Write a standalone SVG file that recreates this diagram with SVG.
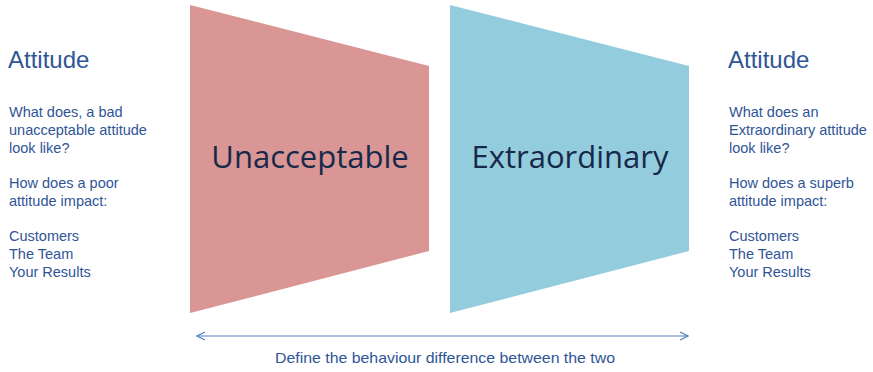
<svg xmlns="http://www.w3.org/2000/svg" width="873" height="372" viewBox="0 0 873 372">
<defs>
<style>
.side{font-family:"Liberation Sans",Arial,sans-serif;fill:#2f5597;font-size:14.5px}
.title{font-family:"Liberation Sans",Arial,sans-serif;fill:#2f5597;font-size:24px}
.big{font-family:"Open Sans","Noto Sans",sans-serif;fill:#17294a;font-size:31px}
.cap{font-family:"Liberation Sans",Arial,sans-serif;fill:#2f5597;font-size:14.5px}
.conn{stroke:#4f81bd;stroke-width:1.2;fill:none}
</style>
<marker id="ah" viewBox="0 0 10 10" refX="9" refY="5" markerWidth="10" markerHeight="10" markerUnits="userSpaceOnUse" orient="auto-start-reverse">
<path d="M1,1 L9,5 L1,9" fill="none" stroke="#4f81bd" stroke-width="1.2"/>
</marker>
</defs>
<rect width="873" height="372" fill="#ffffff"/>
<g id="left-text">
<text class="title" x="8" y="68">Attitude</text>
<text class="side" x="9" y="117">What does, a bad</text>
<text class="side" x="9" y="135">unacceptable attitude</text>
<text class="side" x="9" y="153">look like?</text>
<text class="side" x="9" y="188">How does a poor</text>
<text class="side" x="9" y="206">attitude impact:</text>
<text class="side" x="9" y="241">Customers</text>
<text class="side" x="9" y="259">The Team</text>
<text class="side" x="9" y="277">Your Results</text>
</g>
<g id="unacceptable">
<polygon points="190,5 429,66 429,251 190,313" fill="#d99694"/>
<text class="big" x="310" y="168" text-anchor="middle">Unacceptable</text>
</g>
<g id="extraordinary">
<polygon points="450,5 689,66 689,251 450,313" fill="#93cddd"/>
<text class="big" x="570" y="168" text-anchor="middle">Extraordinary</text>
</g>
<g id="right-text">
<text class="title" x="728" y="68">Attitude</text>
<text class="side" x="729" y="117">What does an</text>
<text class="side" x="729" y="135">Extraordinary attitude</text>
<text class="side" x="729" y="153">look like?</text>
<text class="side" x="729" y="188">How does a superb</text>
<text class="side" x="729" y="206">attitude impact:</text>
<text class="side" x="729" y="241">Customers</text>
<text class="side" x="729" y="259">The Team</text>
<text class="side" x="729" y="277">Your Results</text>
</g>
<g id="connectors">
<line class="conn" x1="197" y1="336" x2="688" y2="336" marker-start="url(#ah)" marker-end="url(#ah)"/>
</g>
<g id="caption">
<text class="cap" x="445" y="363" text-anchor="middle" textLength="340" lengthAdjust="spacingAndGlyphs">Define the behaviour difference between the two</text>
</g>
</svg>
